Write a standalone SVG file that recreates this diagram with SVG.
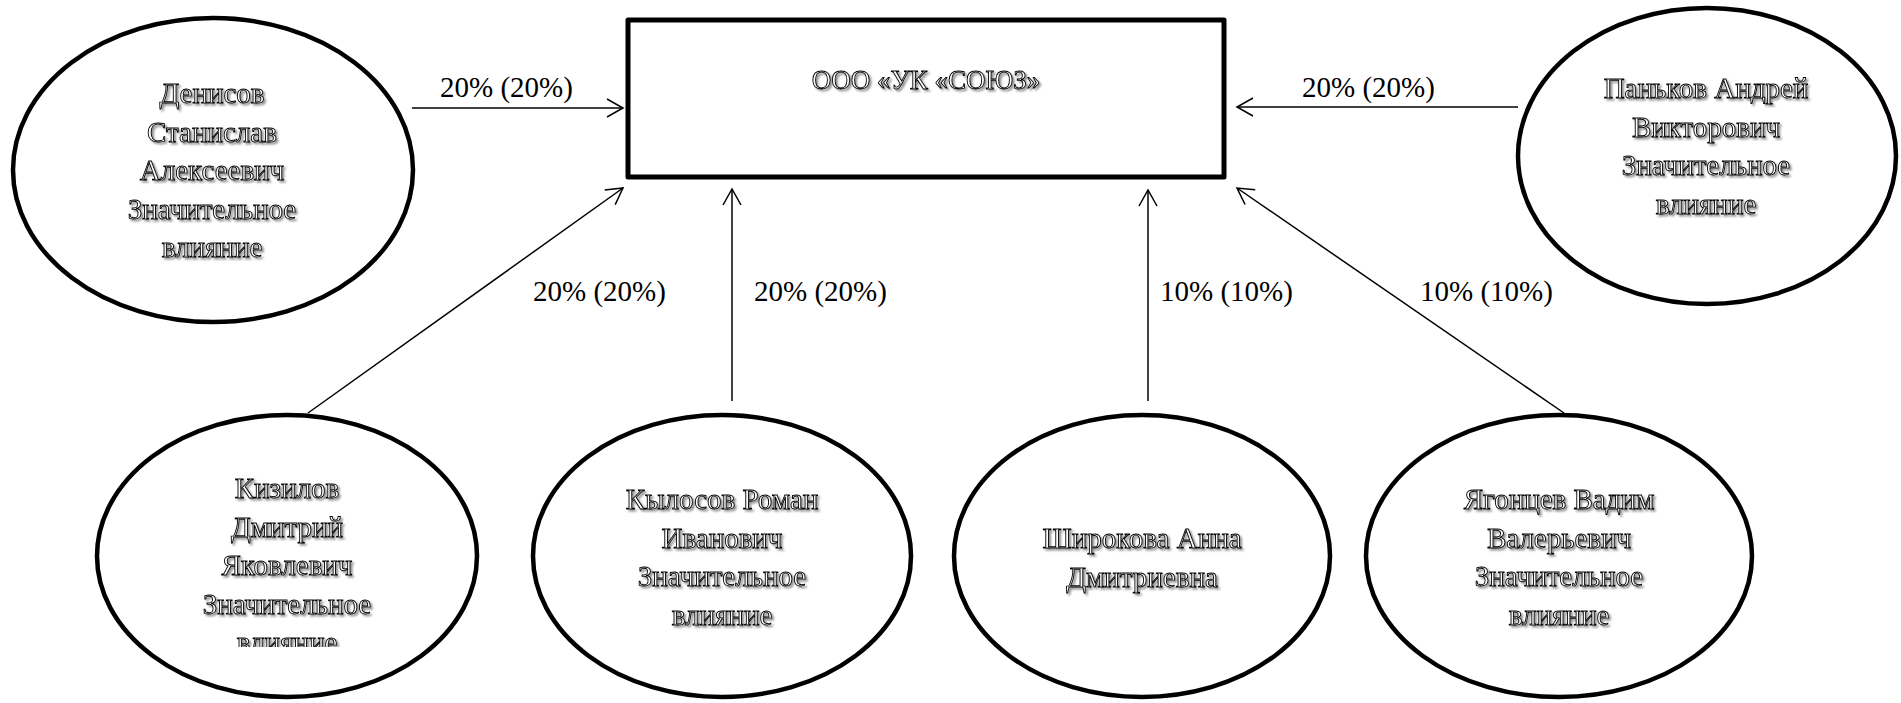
<svg xmlns="http://www.w3.org/2000/svg" width="1901" height="703" viewBox="0 0 1901 703">
<style>
.node{fill:#fff;stroke:#000;stroke-width:4.5}
.nt{font-family:"Liberation Serif","Times New Roman",serif;font-size:29px;fill:#fff;stroke:#000;stroke-width:0.9;text-anchor:middle;filter:url(#sh)}
.lbl{font-family:"Liberation Serif","Times New Roman",serif;font-size:29px;fill:#000}
.con{fill:none;stroke:#000;stroke-width:1.5;marker-end:url(#arr)}
</style>
<defs>
<filter id="sh" x="-10%" y="-30%" width="130%" height="170%">
<feGaussianBlur in="SourceAlpha" stdDeviation="1.2" result="b"/>
<feOffset in="b" dx="2" dy="2" result="o"/>
<feFlood flood-color="#000" flood-opacity="0.45"/>
<feComposite in2="o" operator="in" result="s"/>
<feMerge><feMergeNode in="s"/><feMergeNode in="SourceGraphic"/></feMerge>
</filter>
<marker id="arr" markerWidth="20" markerHeight="20" viewBox="-18 -10 20 20" refX="0" refY="0" orient="auto" markerUnits="userSpaceOnUse">
<path d="M-16,-9 L0,0 L-16,9" fill="none" stroke="#000" stroke-width="1.5"/>
</marker>
<clipPath id="kclip"><rect x="0" y="380" width="600" height="267"/></clipPath>
</defs>

<g id="connectors">
<line class="con" x1="412" y1="108" x2="623" y2="108"/>
<line class="con" x1="1518" y1="107" x2="1237" y2="107"/>
<line class="con" x1="308" y1="413" x2="623" y2="188"/>
<line class="con" x1="732" y1="401" x2="732" y2="189"/>
<line class="con" x1="1148" y1="401" x2="1148" y2="190"/>
<line class="con" x1="1564" y1="413" x2="1237" y2="188"/>
<text class="lbl" x="440" y="97">20% (20%)</text>
<text class="lbl" x="1302" y="97">20% (20%)</text>
<text class="lbl" x="533" y="301">20% (20%)</text>
<text class="lbl" x="754" y="301">20% (20%)</text>
<text class="lbl" x="1160" y="301">10% (10%)</text>
<text class="lbl" x="1420" y="301">10% (10%)</text>
</g>

<g id="uk-soyuz">
<rect x="628" y="20" width="596" height="157" fill="#fff" stroke="#000" stroke-width="5" stroke-linejoin="round"/>
<text class="nt" x="926" y="89" style="font-size:27px">ООО «УК «СОЮЗ»</text>
</g>

<g id="denisov">
<ellipse class="node" cx="213" cy="170" rx="200" ry="152"/>
<text class="nt" x="212" y="103">Денисов</text>
<text class="nt" x="212" y="141.5">Станислав</text>
<text class="nt" x="212" y="180">Алексеевич</text>
<text class="nt" x="212" y="218.5">Значительное</text>
<text class="nt" x="212" y="257">влияние</text>
</g>

<g id="pankov">
<ellipse class="node" cx="1707" cy="156" rx="189" ry="148"/>
<text class="nt" x="1706" y="98">Паньков Андрей</text>
<text class="nt" x="1706" y="136.5">Викторович</text>
<text class="nt" x="1706" y="175">Значительное</text>
<text class="nt" x="1706" y="213.5">влияние</text>
</g>

<g id="kizilov">
<ellipse class="node" cx="287" cy="556" rx="190" ry="141"/>
<g clip-path="url(#kclip)">
<text class="nt" x="287" y="498">Кизилов</text>
<text class="nt" x="287" y="536.5">Дмитрий</text>
<text class="nt" x="287" y="575">Яковлевич</text>
<text class="nt" x="287" y="613.5">Значительное</text>
<text class="nt" x="287" y="652">влияние</text>
</g>
</g>

<g id="kylosov">
<ellipse class="node" cx="722" cy="556" rx="189" ry="141"/>
<text class="nt" x="722" y="509">Кылосов Роман</text>
<text class="nt" x="722" y="547.5">Иванович</text>
<text class="nt" x="722" y="586">Значительное</text>
<text class="nt" x="722" y="624.5">влияние</text>
</g>

<g id="shirokova">
<ellipse class="node" cx="1142" cy="556" rx="188" ry="141"/>
<text class="nt" x="1142" y="548">Широкова Анна</text>
<text class="nt" x="1142" y="586.5">Дмитриевна</text>
</g>

<g id="yagontsev">
<ellipse class="node" cx="1559" cy="556" rx="193" ry="141"/>
<text class="nt" x="1559" y="509">Ягонцев Вадим</text>
<text class="nt" x="1559" y="547.5">Валерьевич</text>
<text class="nt" x="1559" y="586">Значительное</text>
<text class="nt" x="1559" y="624.5">влияние</text>
</g>
</svg>
